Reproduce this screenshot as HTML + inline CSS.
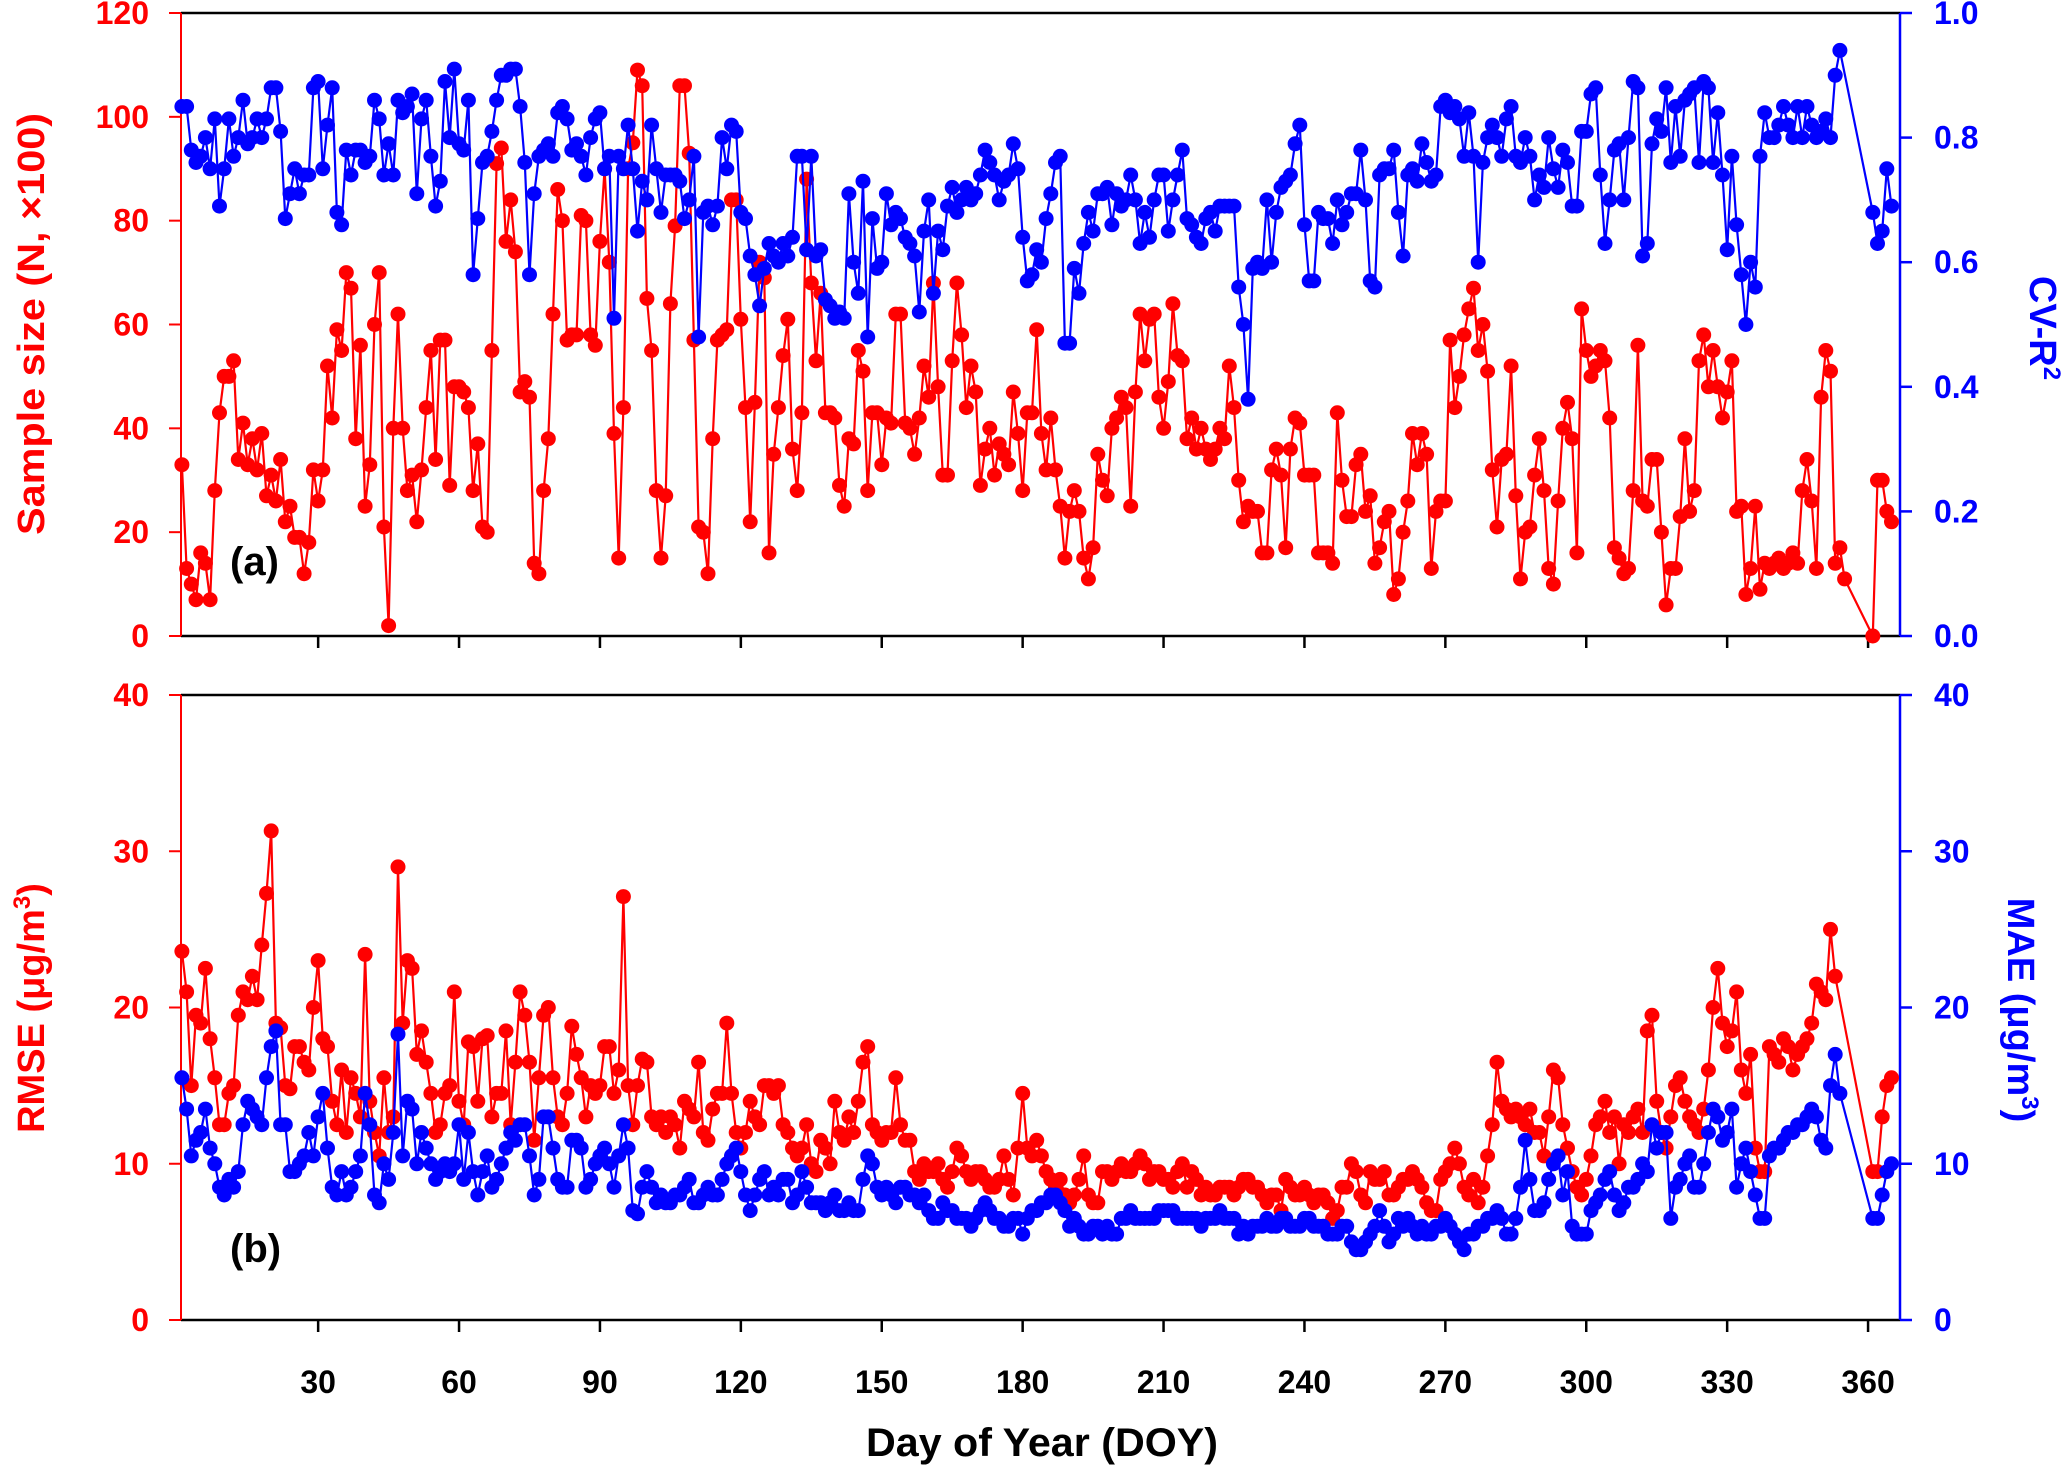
<!DOCTYPE html>
<html><head><meta charset="utf-8">
<style>
html,body{margin:0;padding:0;background:#fff;}
svg{display:block;font-family:"Liberation Sans",sans-serif;font-weight:bold;}
</style></head>
<body>
<svg id="chart" width="2069" height="1467" viewBox="0 0 2069 1467" xmlns="http://www.w3.org/2000/svg">
<g id="axes"></g>
<g id="marks"></g>
<text x="230" y="575" font-size="40" fill="#000">(a)</text>
<text x="230" y="1262" font-size="40" fill="#000">(b)</text>
<text transform="translate(44,324) rotate(-90)" text-anchor="middle" font-size="38" fill="#ff0000" textLength="422" lengthAdjust="spacingAndGlyphs">Sample size (N, ×100)</text>
<text transform="translate(2030,328) rotate(90)" text-anchor="middle" font-size="38" fill="#0000ff">CV-R<tspan font-size="24" dy="-14">2</tspan></text>
<text transform="translate(44,1008) rotate(-90)" text-anchor="middle" font-size="38" fill="#ff0000">RMSE (μg/m<tspan font-size="24" dy="-14">3</tspan><tspan dy="14">)</tspan></text>
<text transform="translate(2008,1010) rotate(90)" text-anchor="middle" font-size="38" fill="#0000ff">MAE (μg/m<tspan font-size="24" dy="-14">3</tspan><tspan dy="14">)</tspan></text>
<text x="1042" y="1456" text-anchor="middle" font-size="40" fill="#000" textLength="352" lengthAdjust="spacingAndGlyphs">Day of Year (DOY)</text>
</svg>
<script>
// ---- data ----
const xTicks = [30,60,90,120,150,180,210,240,270,300,330,360];
const sampleTicks = [0,20,40,60,80,100,120];
const cvTicks = [0.0,0.2,0.4,0.6,0.8,1.0];
const errTicks = [0,10,20,30,40];
const tailStartDay = 361;

const sampleMain = [33,13,10,7,16,14,7,28,43,50,50,53,34,41,33,38,32,39,27,31,26,34,22,25,19,19,12,18,32,26,32,52,42,59,55,70,67,38,56,25,33,60,70,21,2,40,62,40,28,31,22,32,44,55,34,57,57,29,48,48,47,44,28,37,21,20,55,91,94,76,84,74,47,49,46,14,12,28,38,62,86,80,57,58,58,81,80,58,56,76,90,72,39,15,44,90,95,109,106,65,55,28,15,27,64,79,106,106,93,57,21,20,12,38,57,58,59,84,84,61,44,22,45,72,69,16,35,44,54,61,36,28,43,88,68,53,66,43,43,42,29,25,38,37,55,51,28,43,43,33,42,41,62,62,41,40,35,42,52,46,68,48,31,31,53,68,58,44,52,47,29,36,40,31,37,35,33,47,39,28,43,43,59,39,32,42,32,25,15,24,28,24,15,11,17,35,30,27,40,42,46,44,25,47,62,53,61,62,46,40,49,64,54,53,38,42,36,40,36,34,36,40,38,52,44,30,22,25,24,24,16,16,32,36,31,17,36,42,41,31,31,31,16,16,16,14,43,30,23,23,33,35,24,27,14,17,22,24,8,11,20,26,39,33,39,35,13,24,26,26,57,44,50,58,63,67,55,60,51,32,21,34,35,52,27,11,20,21,31,38,28,13,10,26,40,45,38,16,63,55,50,52,55,53,42,17,15,12,13,28,56,26,25,34,34,20,6,13,13,23,38,24,28,53,58,48,55,48,42,47,53,24,25,8,13,25,9,14,13,14,15,13,14,16,14,28,34,26,13,46,55,51,14,17,11];
const sampleTail = [0,30,30,24,22];

const cvMain = [.85,.85,.78,.76,.77,.80,.75,.83,.69,.75,.83,.77,.80,.86,.79,.80,.83,.80,.83,.88,.88,.81,.67,.71,.75,.71,.74,.74,.88,.89,.75,.82,.88,.68,.66,.78,.74,.78,.78,.76,.77,.86,.83,.74,.79,.74,.86,.84,.85,.87,.71,.83,.86,.77,.69,.73,.89,.80,.91,.79,.78,.86,.58,.67,.76,.77,.81,.86,.90,.90,.91,.91,.85,.76,.58,.71,.77,.78,.79,.77,.84,.85,.83,.78,.79,.77,.74,.80,.83,.84,.75,.77,.51,.77,.75,.82,.75,.65,.73,.70,.82,.75,.68,.74,.74,.74,.73,.67,.70,.77,.48,.68,.69,.66,.69,.80,.75,.82,.81,.68,.67,.61,.58,.53,.59,.63,.61,.60,.63,.61,.64,.77,.77,.62,.77,.61,.62,.54,.53,.51,.52,.51,.71,.60,.55,.73,.48,.67,.59,.60,.71,.66,.68,.67,.64,.63,.61,.52,.65,.70,.55,.65,.62,.69,.72,.68,.70,.72,.70,.71,.74,.78,.76,.74,.70,.73,.74,.79,.75,.64,.57,.58,.62,.60,.67,.71,.76,.77,.47,.47,.59,.55,.63,.68,.65,.71,.71,.72,.66,.71,.69,.70,.74,.70,.63,.68,.64,.70,.74,.74,.65,.70,.74,.78,.67,.66,.64,.63,.67,.68,.65,.69,.69,.69,.69,.56,.50,.38,.59,.60,.59,.70,.60,.68,.72,.73,.74,.79,.82,.66,.57,.57,.68,.67,.67,.63,.70,.66,.68,.71,.71,.78,.70,.57,.56,.74,.75,.75,.78,.68,.61,.74,.75,.73,.79,.76,.73,.74,.85,.86,.84,.85,.83,.77,.84,.77,.60,.76,.80,.82,.80,.77,.83,.85,.77,.76,.80,.77,.70,.74,.72,.80,.75,.72,.78,.76,.69,.69,.81,.81,.87,.88,.74,.63,.70,.78,.79,.70,.80,.89,.88,.61,.63,.79,.83,.81,.88,.76,.85,.77,.86,.87,.88,.76,.89,.88,.76,.84,.74,.62,.77,.66,.58,.50,.60,.56,.77,.84,.80,.80,.82,.85,.82,.80,.85,.80,.85,.82,.80,.81,.83,.80,.90,.94];
const cvTail = [.68,.63,.65,.75,.69];

const rmseMain = [23.6,21,15,19.5,19,22.5,18,15.5,12.5,12.5,14.5,15,19.5,21,20.5,22,20.5,24,27.3,31.3,19,18.7,15,14.8,17.5,17.5,16.5,16,20,23,18,17.5,14,12.5,16,12,15.5,14.5,13,23.4,14,12,10.5,15.5,12,13,29,19,23,22.5,17,18.5,16.5,14.5,12,12.5,14.5,15,21,14,12.5,17.8,17.5,14,18,18.2,13,14.5,14.5,18.5,12.5,16.5,21,19.5,16.5,11.5,15.5,19.5,20,15.5,13,12.5,14.5,18.8,17,15.5,13,15,14.5,15,17.5,17.5,14.5,16,27.1,15,12.5,15,16.7,16.5,13,12.5,13,12,13,12.5,11,14,13.5,13,16.5,12,11.5,13.5,14.5,14.5,19,14.5,12,11,12,14,13,12.5,15,15,14.5,15,12.5,12,11,10.5,11,12.5,10,9.5,11.5,11,10,14,12,11.5,13,12,14,16.5,17.5,12.5,12,11.5,12,12,15.5,12.5,11.5,11.5,9.5,9,10,9.5,9.5,10,9,8.5,9.5,11,10.5,9.5,9,9.5,9.5,9,8.5,8.5,9,10.5,9,8,11,14.5,11,10.5,11.5,10.5,9.5,9,8.5,9,8,7.5,8,9,10.5,8,7.5,7.5,9.5,9.5,9,9.5,10,9.5,9.5,10,10.5,10,9,9.5,9.5,9,9,8.5,9.5,10,8.5,9.5,9,8,8.5,8,8,8.5,8.5,8.5,8,8.5,9,9,8.5,8.5,8,7.5,8,8,7,9,8.5,8,8,8.5,8,7.5,8,8,7.5,6.5,7,8.5,8.5,10,9.5,8,7.5,9.5,9,9,9.5,8,8,8.5,9,9,9.5,9,8.5,7.5,7,7,9,9.5,10,11,10,8.5,8,9,7.5,8.5,10.5,12.5,16.5,14,13.5,13,13.5,13,12.5,13.5,12,12,10.5,13,16,15.5,12.5,11,9.5,8.5,8,9,10.5,12.5,13,14,12,13,10,12.5,12,13,13.5,12,18.5,19.5,14,12,11,13,15,15.5,14,13,12.5,12,13.5,16,20,22.5,19,17.5,18.5,21,16,14.5,17,11,9.5,9.5,17.5,17,16.5,18,17.5,16,17,17.5,18,19,21.5,21,20.5,25,22];
const rmseTail = [9.5,9.5,13,15,15.5];

const maeMain = [15.5,13.5,10.5,11.5,12,13.5,11,10,8.5,8,9,8.5,9.5,12.5,14,13.5,13,12.5,15.5,17.5,18.5,12.5,12.5,9.5,9.5,10,10.5,12,10.5,13,14.5,11,8.5,8,9.5,8,8.5,9.5,10.5,14.5,12.5,8,7.5,10,9,12,18.3,10.5,14,13.5,10,12,11,10,9,9.5,10,9.5,10,12.5,9,12,9.5,8,9.5,10.5,8.5,9,10,11,12,11.5,12.5,12.5,10.5,8,9,13,13,11,9,8.5,8.5,11.5,11.5,11,8.5,9,10,10.5,11,10,8.5,10.5,12.5,11,7,6.8,8.5,9.5,8.5,7.5,8,7.5,7.5,8,8,8.5,9,7.5,7.5,8,8.5,8,8,9,10,10.5,11,9.5,8,7,8,9,9.5,8,8.5,8,9,9,7.5,8,9.5,8.5,7.5,7.5,7.5,7,7.5,8,7,7,7.5,7,7,9,10.5,10,8.5,8,8.5,8,7.5,8.5,8.5,8,8,7.5,8,7,6.5,6.5,7.5,7,7,6.5,6.5,6.5,6,6.5,7,7.5,7,6.5,6.5,6,6,6.5,6.5,5.5,6.5,7,7,7.5,7.5,8,8,7.5,7,6,6.5,6,5.5,5.5,6,6,5.5,6,5.5,5.5,6.5,6.5,7,6.5,6.5,6.5,6.5,6.5,7,7,7,7,6.5,6.5,6.5,6.5,6.5,6,6.5,6.5,6.5,7,6.5,6.5,6.5,5.5,6,5.5,6,6,6,6.5,6,6,6.5,6.5,6,6,6,6.5,6.5,6,6,6,5.5,5.5,5.5,6,6,5,4.5,4.5,5,5.5,6,7,6,5,5.5,6.5,6,6.5,6,5.5,6,5.5,5.5,6,6,6.5,6,5.5,5,4.5,5.5,5.5,6,6,6.5,6.5,7,6.5,5.5,5.5,6.5,8.5,11.5,9,7,7,7.5,9,10,10.5,8,9.5,6,5.5,5.5,5.5,7,7.5,8,9,9.5,8,7,7.5,8.5,8.5,9,10,9.5,12.5,11,12,12,6.5,8.5,9,10,10.5,8.5,8.5,10,12,13.5,13,11.5,12,13.5,8.5,10,11,9.5,8,6.5,6.5,10.5,11,11,11.5,12,12,12.5,12.5,13,13.5,13,11.5,11,15,17,14.5];
const maeTail = [6.5,6.5,8,9.5,10];

// ---- layout ----
const L=181, R=1900;
const A={top:13,bottom:636}, B={top:695,bottom:1320};
const dayMin=0.8, dayMax=366.8;
const xScale = d => L + (d-dayMin)/(dayMax-dayMin)*(R-L);
const yA_left = v => A.bottom - v/120*(A.bottom-A.top);
const yA_right = v => A.bottom - v/1.0*(A.bottom-A.top);
const yB = v => B.bottom - v/40*(B.bottom-B.top);

const NS="http://www.w3.org/2000/svg";
const axes=document.getElementById('axes'), marks=document.getElementById('marks');
function mk(tag, parent, attrs){const e=document.createElementNS(NS,tag);for(const k in attrs)e.setAttribute(k,attrs[k]);parent.appendChild(e);return e;}

function buildPoints(main, tail){
  const pts=[];
  main.forEach((v,i)=>pts.push([i+1,v]));
  tail.forEach((v,i)=>pts.push([tailStartDay+i,v]));
  return pts;
}

function drawPanel(P, leftTicks, leftFmt, yL, rightTicks, rightFmt, yR, pname){
  // frame
  let e=mk('line',axes,{x1:L,y1:P.top,x2:R,y2:P.top,stroke:'#000','stroke-width':2.5});
  
  
  e=mk('line',axes,{x1:L,y1:P.bottom,x2:R,y2:P.bottom,stroke:'#000','stroke-width':2.5});
  
  
  e=mk('line',axes,{x1:L,y1:P.top,x2:L,y2:P.bottom,stroke:'#ff0000','stroke-width':2});
  
  
  e=mk('line',axes,{x1:R,y1:P.top,x2:R,y2:P.bottom,stroke:'#0000ff','stroke-width':2.5});
  
  
  leftTicks.forEach(t=>{
    const y=yL(t);
    let k=mk('line',axes,{x1:L-12,y1:y,x2:L,y2:y,stroke:'#ff0000','stroke-width':2});
    
    
    const tx=mk('text',axes,{x:L-32,y:y+11,'text-anchor':'end','font-size':32,fill:'#ff0000'});
    tx.textContent=leftFmt(t);
    
    
  });
  rightTicks.forEach(t=>{
    const y=yR(t);
    let k=mk('line',axes,{x1:R,y1:y,x2:R+12,y2:y,stroke:'#0000ff','stroke-width':2.5});
    
    
    const tx=mk('text',axes,{x:R+34,y:y+11,'text-anchor':'start','font-size':32,fill:'#0000ff'});
    tx.textContent=rightFmt(t);
    
    
  });
  xTicks.forEach(d=>{
    const x=xScale(d);
    let k=mk('line',axes,{x1:x,y1:P.bottom,x2:x,y2:P.bottom+12,stroke:'#000','stroke-width':2.5});
    
    
  });
}

function drawSeries(pts, ys, color, name){
  const g=mk('g',marks,{});
  
  
  const d=pts.map((p,i)=>(i?'L':'M')+xScale(p[0]).toFixed(1)+' '+ys(p[1]).toFixed(1)).join(' ');
  const pl=mk('path',g,{d:d,fill:'none',stroke:color,'stroke-width':2.2,'stroke-linejoin':'round'});
  
  
  pts.forEach(p=>{
    const c=mk('circle',g,{cx:xScale(p[0]).toFixed(1),cy:ys(p[1]).toFixed(1),r:7.5,fill:color});
    
    
  });
}

drawPanel(A, sampleTicks, t=>String(t), yA_left, cvTicks, t=>t.toFixed(1), yA_right, 'panel-a');
drawPanel(B, errTicks, t=>String(t), yB, errTicks, t=>String(t), yB, 'panel-b');

xTicks.forEach(d=>{
  const tx=mk('text',axes,{x:xScale(d),y:1393,'text-anchor':'middle','font-size':32,fill:'#000'});
  tx.textContent=String(d);
  
  
});

drawSeries(buildPoints(sampleMain,sampleTail), yA_left, '#ff0000', 'sample-size-series');
drawSeries(buildPoints(cvMain,cvTail), yA_right, '#0000ff', 'cv-r2-series');
drawSeries(buildPoints(rmseMain,rmseTail), yB, '#ff0000', 'rmse-series');
drawSeries(buildPoints(maeMain,maeTail), yB, '#0000ff', 'mae-series');
</script>
</body></html>
